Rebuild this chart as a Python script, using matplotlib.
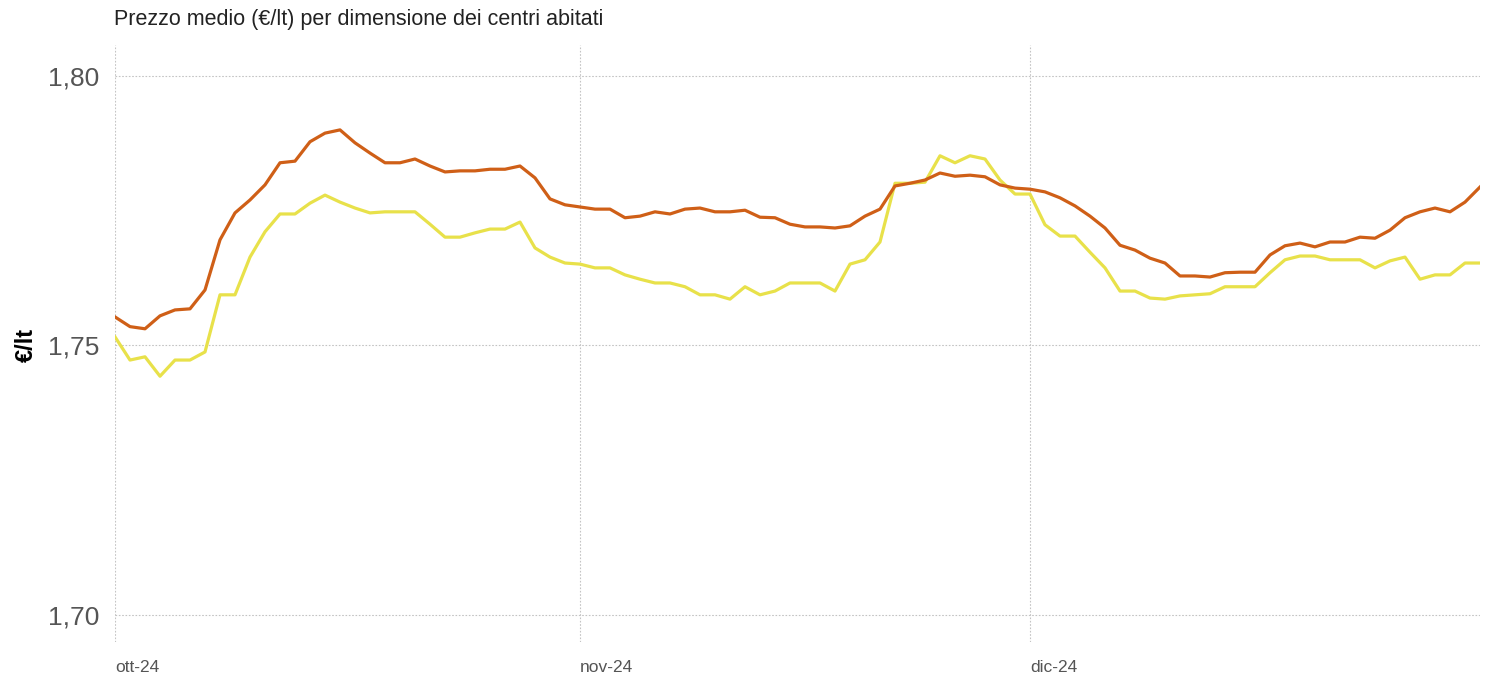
import pandas as pd
import numpy as np
import matplotlib
matplotlib.use("Agg")
import matplotlib.pyplot as plt
import matplotlib.dates as mdates

plt.rcParams['font.family'] = ['Liberation Sans', 'DejaVu Sans']

dates = pd.date_range("2024-10-01", "2024-12-31", freq="D")

# serie 1 (arancione)
prezzo_a = [
    1.7553, 1.7535, 1.7531, 1.7555, 1.7566, 1.7568, 1.7603, 1.7696, 1.7746, 1.7770,
    1.7798, 1.7839, 1.7842, 1.7878, 1.7894, 1.7900, 1.7876, 1.7857, 1.7839, 1.7839,
    1.7846, 1.7833, 1.7822, 1.7824, 1.7824, 1.7827, 1.7827, 1.7833, 1.7811, 1.7772,
    1.7761, 1.7757, 1.7753, 1.7753, 1.7737, 1.7740, 1.7748, 1.7744, 1.7753, 1.7755,
    1.7748, 1.7748, 1.7751, 1.7738, 1.7737, 1.7725, 1.7720, 1.7720, 1.7718, 1.7722,
    1.7740, 1.7753, 1.7796, 1.7801, 1.7807, 1.7820, 1.7814, 1.7816, 1.7813, 1.7798,
    1.7792, 1.7790, 1.7785, 1.7774, 1.7759, 1.7740, 1.7718, 1.7686, 1.7677, 1.7662,
    1.7653, 1.7629, 1.7629, 1.7627, 1.7635, 1.7636, 1.7636, 1.7668, 1.7685, 1.7690,
    1.7683, 1.7692, 1.7692, 1.7701, 1.7699, 1.7714, 1.7737, 1.7748, 1.7755, 1.7748,
    1.7766, 1.7794,
]

# serie 2 (gialla)
prezzo_b = [
    1.7516, 1.7473, 1.7479, 1.7443, 1.7473, 1.7473, 1.7488, 1.7594, 1.7594, 1.7664,
    1.7711, 1.7744, 1.7744, 1.7764, 1.7779, 1.7766, 1.7755, 1.7746, 1.7748, 1.7748,
    1.7748, 1.7725, 1.7701, 1.7701, 1.7709, 1.7716, 1.7716, 1.7729, 1.7681, 1.7664,
    1.7653, 1.7651, 1.7644, 1.7644, 1.7631, 1.7623, 1.7616, 1.7616, 1.7609, 1.7594,
    1.7594, 1.7586, 1.7609, 1.7594, 1.7601, 1.7616, 1.7616, 1.7616, 1.7601, 1.7651,
    1.7659, 1.7692, 1.7801, 1.7801, 1.7803, 1.7852, 1.7839, 1.7852, 1.7846, 1.7807,
    1.7781, 1.7781, 1.7724, 1.7703, 1.7703, 1.7673, 1.7644, 1.7601, 1.7601, 1.7588,
    1.7586, 1.7592, 1.7594, 1.7596, 1.7609, 1.7609, 1.7609, 1.7635, 1.7659, 1.7666,
    1.7666, 1.7659, 1.7659, 1.7659, 1.7644, 1.7657, 1.7664, 1.7623, 1.7631, 1.7631,
    1.7653, 1.7653,
]

y_ticks = [1.70, 1.75, 1.80]
y_labels = ["1,70", "1,75", "1,80"]
month_ticks = pd.to_datetime(["2024-10-01", "2024-11-01", "2024-12-01"])
month_labels = ["ott-24", "nov-24", "dic-24"]

fig = plt.figure(figsize=(14.92, 6.77), dpi=100)
ax = fig.add_axes([115 / 1492, 1 - 642 / 677, (1480 - 115) / 1492, (642 - 45) / 677])

ax.plot(dates, prezzo_b, color="#E8E14A", lw=2.3, solid_joinstyle="round")
ax.plot(dates, prezzo_a, color="#CF5F17", lw=2.3, solid_joinstyle="round")

ax.set_xlim(dates[0], dates[-1])
ax.set_ylim(1.69499, 1.80575)

ax.set_yticks(y_ticks)
ax.set_yticklabels(y_labels, fontsize=19, color="#555555")
ax.set_xticks(month_ticks)
ax.set_xticklabels(month_labels, fontsize=12.5, color="#555555", ha="left")
ax.tick_params(axis="both", length=0)
ax.tick_params(axis="y", pad=11)
ax.tick_params(axis="x", pad=13)

ax.grid(True, color="#c4c4c4", linestyle=(0, (1.5, 1.5)), linewidth=0.8)
ax.set_axisbelow(True)
for s in ax.spines.values():
    s.set_visible(False)

ax.set_ylabel("€/lt", fontsize=17, fontweight="bold")
ax.yaxis.set_label_coords((38 - 115) / 1365, (677 - 345 - 35) / 597)
fig.text(114 / 1492, 1 - 20 / 677, "Prezzo medio (€/lt) per dimensione dei centri abitati",
         fontsize=15.5, va="center", ha="left", color="#222222")

fig.savefig("out.png", dpi=100, facecolor="white")
